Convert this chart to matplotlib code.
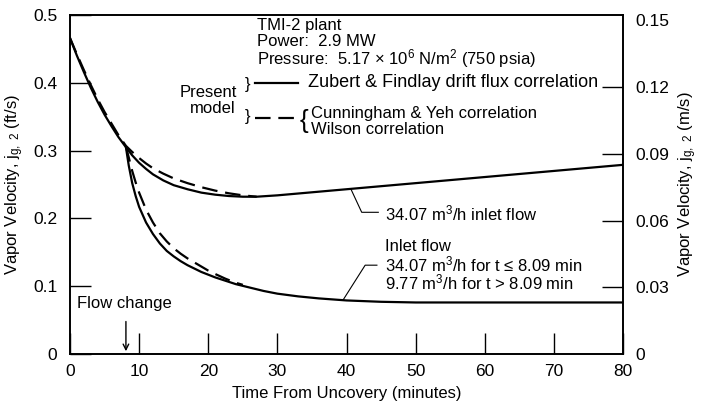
import matplotlib
matplotlib.use('Agg')
import matplotlib.pyplot as plt
import numpy as np

plt.rcParams['font.family'] = ['Liberation Sans', 'DejaVu Sans']
plt.rcParams['mathtext.fontset'] = 'custom'
plt.rcParams['mathtext.rm'] = 'Liberation Sans'
plt.rcParams['mathtext.it'] = 'Liberation Sans:italic'
plt.rcParams['mathtext.default'] = 'regular'

# 34.07 m3/h inlet flow throughout (upper curves)
t_up = [0, 1, 2, 3, 4, 5, 6, 7, 8.09, 9, 10, 11, 12, 13.5, 15, 17, 19, 21, 23, 25, 27, 30, 40, 50, 60, 70, 80]
zf_up = [0.466, 0.44, 0.416, 0.393, 0.372, 0.353, 0.336, 0.32, 0.305, 0.293, 0.282, 0.273, 0.265,
         0.256, 0.249, 0.243, 0.238, 0.235, 0.233, 0.232, 0.232, 0.234, 0.243, 0.252, 0.261, 0.270, 0.279]
t_up_d = [0, 1, 2, 3, 4, 5, 6, 7, 8.09, 9, 10, 11, 12, 13.5, 15, 17, 19, 21, 23, 25, 27]
cy_up = [0.466, 0.442, 0.419, 0.397, 0.376, 0.357, 0.34, 0.323, 0.307, 0.298, 0.289, 0.281, 0.274,
         0.266, 0.259, 0.252, 0.246, 0.241, 0.237, 0.234, 0.232]

# flow reduced to 9.77 m3/h after 8.09 min (lower curves)
t_lo = [8.09, 8.5, 9, 9.5, 10, 11, 12, 13, 14, 15, 16, 17, 18, 19, 20, 21, 22.5, 24, 26, 28, 30,
        33, 36, 40, 45, 50, 60, 70, 80]
zf_lo = [0.305, 0.278, 0.252, 0.233, 0.217, 0.194, 0.177, 0.163, 0.152, 0.144, 0.137, 0.131, 0.126,
         0.121, 0.117, 0.113, 0.108, 0.103, 0.098, 0.093, 0.089, 0.085, 0.082, 0.079, 0.077, 0.076,
         0.076, 0.076, 0.076]
t_lo_d = [8.09, 8.5, 9, 9.5, 10, 11, 12, 13, 14, 15, 16, 17, 18, 19, 20, 21, 22.5, 24, 25]
cy_lo = [0.306, 0.29, 0.27, 0.253, 0.238, 0.213, 0.194, 0.178, 0.166, 0.156, 0.148, 0.141, 0.135,
         0.129, 0.123, 0.118, 0.111, 0.105, 0.102]

x_ticks = [0, 10, 20, 30, 40, 50, 60, 70, 80]
y_ticks = [0, 0.1, 0.2, 0.3, 0.4, 0.5]
y_labels = ['0', '0.1', '0.2', '0.3', '0.4', '0.5']
y2_ticks = [0.03, 0.06, 0.09, 0.12]
y2_labels = ['0.03', '0.06', '0.09', '0.12']
ft_to_m = 0.3048

fig = plt.figure(figsize=(7.01, 4.05), dpi=100)
ax = fig.add_axes([70/701, 51/405, 553/701, 339/405])

ax.plot(t_up, zf_up, color='k', lw=1.6, solid_capstyle='round')
ax.plot(t_lo, zf_lo, color='k', lw=1.6, solid_capstyle='round')
ax.plot(t_up_d, cy_up, color='k', lw=1.6, dashes=(7, 3.5))
ax.plot(t_lo_d, cy_lo, color='k', lw=1.6, dashes=(7, 3.5))

ax.set_xlim(0, 80)
ax.set_ylim(0, 0.5)
ax.set_xticks(x_ticks)
ax.set_yticks(y_ticks)
ax.set_yticklabels(y_labels)
ax.tick_params(direction='in', length=15, width=1, labelsize=12.5, pad=9)
ax.tick_params(axis='x', pad=7)
for s in ax.spines.values():
    s.set_linewidth(1.2)

ax.set_xlabel('Time From Uncovery (minutes)', fontsize=12)
ax.xaxis.set_label_coords(0.5, -0.093)
ax.set_ylabel(r'Vapor Velocity, j$_{g,\ 2}$ (ft/s)', fontsize=12)
ax.yaxis.set_label_coords(-0.08, 0.5)

ax2 = ax.twinx()
ax2.set_ylim(0, 0.5*ft_to_m)
ax2.set_yticks(y2_ticks)
ax2.set_yticklabels(y2_labels)
ax2.set_yticks([0, 0.15], minor=True)
ax2.set_yticklabels(['0', '0.15'], minor=True)
ax2.tick_params(which='major', direction='in', length=15, width=1, labelsize=12.5, pad=9)
ax2.tick_params(which='minor', direction='in', length=0, labelsize=12.5, pad=9)
ax2.set_ylabel(r'Vapor Velocity, j$_{g,\ 2}$ (m/s)', fontsize=12, rotation=90)
ax2.yaxis.set_label_coords(1.097, 0.5)
for s in ax2.spines.values():
    s.set_linewidth(1.2)

# header text
fs = 12
ax.text(27.05, 0.485, 'TMI-2 plant', fontsize=fs, va='center')
ax.text(27.05, 0.461, 'Power:  2.9 MW', fontsize=fs, va='center')
ax.text(27.05, 0.436, 'Pressure:  5.17 × 10$^6$ N/m$^2$ (750 psia)', fontsize=fs, va='center')

# legend by hand
ax.text(24.2, 0.386, 'Present', fontsize=fs, va='center', ha='right')
ax.text(24.0, 0.362, 'model', fontsize=fs, va='center', ha='right')
ax.text(25.7, 0.398, '}', fontsize=12, va='center', ha='center', fontweight='light')
ax.text(25.7, 0.350, '}', fontsize=12, va='center', ha='center', fontweight='light')
ax.plot([26.8, 33.0], [0.400, 0.400], color='k', lw=1.6)
ax.plot([26.8, 33.0], [0.348, 0.348], color='k', lw=1.6, dashes=(7, 3.5))
ax.text(34.4, 0.400, 'Zubert & Findlay drift flux correlation', fontsize=13, va='center')
ax.text(33.9, 0.344, '{', fontsize=19, va='center', ha='center', fontweight='light')
ax.text(34.9, 0.355, 'Cunningham & Yeh correlation', fontsize=fs, va='center')
ax.text(34.9, 0.331, 'Wilson correlation', fontsize=fs, va='center')

# curve labels with leaders
ax.plot([40.65, 42.2, 44.6], [0.243, 0.209, 0.209], color='k', lw=0.8)
ax.text(45.6, 0.207, '34.07 m$^3$/h inlet flow', fontsize=fs, va='center')
ax.plot([39.5, 42.7, 44.4], [0.0796, 0.131, 0.131], color='k', lw=0.8)
ax.text(45.6, 0.158, 'Inlet flow', fontsize=fs, va='center')
ax.text(45.6, 0.132, '34.07 m$^3$/h for t ≤ 8.09 min', fontsize=fs, va='center')
ax.text(45.6, 0.105, '9.77 m$^3$/h for t > 8.09 min', fontsize=fs, va='center')

ax.text(1.0, 0.074, 'Flow change', fontsize=fs, va='center')
ax.annotate('', xy=(8.09, 0.0), xytext=(8.09, 0.052),
            arrowprops=dict(arrowstyle='->', color='k', lw=1.0))

fig.savefig('out.png', dpi=100)
